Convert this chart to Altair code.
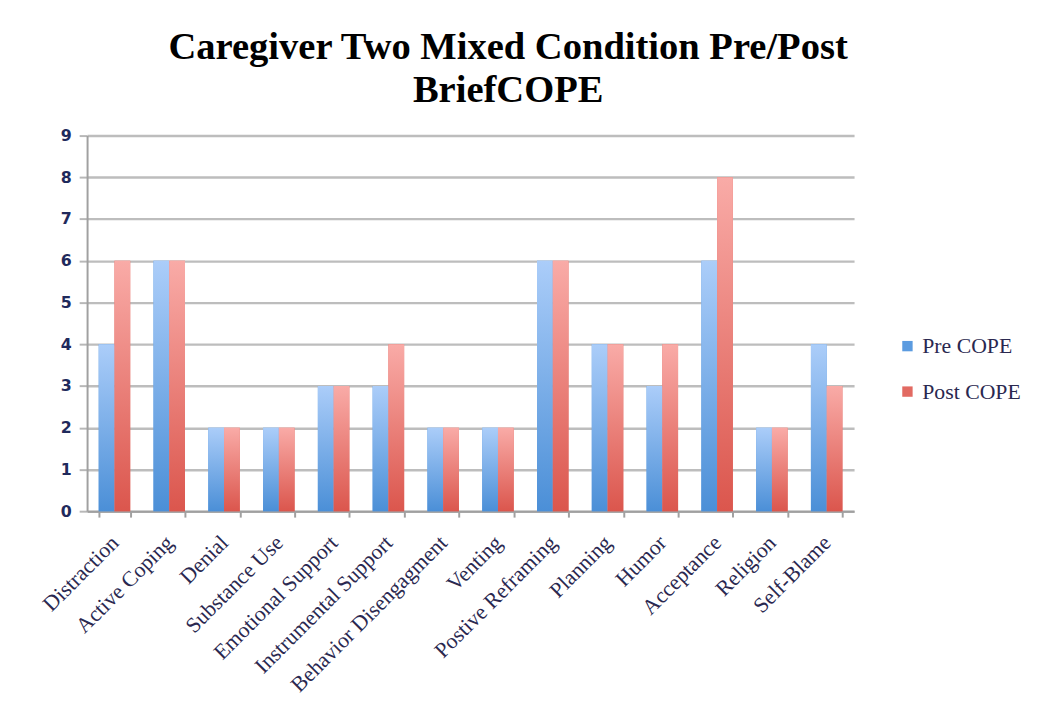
import altair as alt
import pandas as pd

categories = ["Distraction", "Active Coping", "Denial", "Substance Use", "Emotional Support",
              "Instrumental Support", "Behavior Disengagment", "Venting", "Postive Reframing",
              "Planning", "Humor", "Acceptance", "Religion", "Self-Blame"]
pre_cope = [4, 6, 2, 2, 3, 3, 2, 2, 6, 4, 3, 6, 2, 4]
post_cope = [6, 6, 2, 2, 3, 4, 2, 2, 6, 4, 4, 8, 2, 3]
series_names = ["Pre COPE", "Post COPE"]
y_ticks = [0, 1, 2, 3, 4, 5, 6, 7, 8, 9]

rows = []
for c, a, b in zip(categories, pre_cope, post_cope):
    rows.append({"category": c, "series": series_names[0], "value": a})
    rows.append({"category": c, "series": series_names[1], "value": b})
df = pd.DataFrame(rows)

blue_grad = alt.Gradient(gradient="linear", x1=0, x2=0, y1=0, y2=1,
                         stops=[alt.GradientStop(color="#abcdf9", offset=0),
                                alt.GradientStop(color="#4b8fd7", offset=1)])
red_grad = alt.Gradient(gradient="linear", x1=0, x2=0, y1=0, y2=1,
                        stops=[alt.GradientStop(color="#f9aba7", offset=0),
                               alt.GradientStop(color="#db564d", offset=1)])

x_enc = alt.X("category:N", sort=categories, title=None,
              scale=alt.Scale(paddingInner=0.425, paddingOuter=0.2125),
              axis=alt.Axis(labelAngle=-45, labelAlign="right", labelBaseline="middle",
                            labelFont="Liberation Serif", labelFontSize=22, labelColor="#2a2850",
                            labelPadding=22, tickBand="extent", ticks=True, tickSize=6,
                            tickColor="#a0a0a0", tickWidth=2, domainColor="#a0a0a0",
                            domainWidth=2, grid=False, labelLimit=400))
xoff_enc = alt.XOffset("series:N", sort=series_names, scale=alt.Scale(domain=series_names))
y_enc = alt.Y("value:Q", title=None,
              scale=alt.Scale(domain=[0, 9], nice=False),
              axis=alt.Axis(values=y_ticks, labelFont="DejaVu Sans", labelFontWeight="bold",
                            labelFontSize=16, labelColor="#1f2a5c", labelPadding=8,
                            tickSize=8, tickColor="#b8b8b8", tickWidth=2,
                            domainColor="#a0a0a0", domainWidth=2,
                            grid=True, gridColor="#bdbdbd", gridWidth=2.5))

base = alt.Chart(df).mark_bar().encode(
    x=x_enc,
    xOffset=xoff_enc,
    y=y_enc,
    color=alt.Color("series:N", sort=series_names, title=None,
                    scale=alt.Scale(domain=series_names, range=["#5b9be0", "#e26a62"]),
                    legend=alt.Legend(orient="none", legendX=819, legendY=202,
                                      symbolType="square", symbolSize=110,
                                      labelFont="Liberation Serif", labelFontSize=22,
                                      labelColor="#2a2850", rowPadding=24, labelOffset=4))
)

grad = alt.Chart(df).mark_bar().encode(
    x=alt.X("category:N", sort=categories),
    xOffset=alt.XOffset("series:N", sort=series_names),
    y=alt.Y("value:Q"),
    color=alt.condition(alt.datum.series == "Pre COPE", alt.value(blue_grad), alt.value(red_grad))
)

chart = alt.layer(base, grad).properties(
    width=776, height=380,
    title=alt.Title(["Caregiver Two Mixed Condition Pre/Post", "BriefCOPE"],
                    font="Liberation Serif", fontSize=39, fontWeight="bold", color="#000000",
                    lineHeight=43, anchor="middle", dx=38, offset=18),
    padding={"left": 30, "top": 17, "right": 10, "bottom": 5},
    background="white"
).configure_view(stroke=None)

chart.save("out.html", embed_options={"renderer": "svg", "actions": False})
